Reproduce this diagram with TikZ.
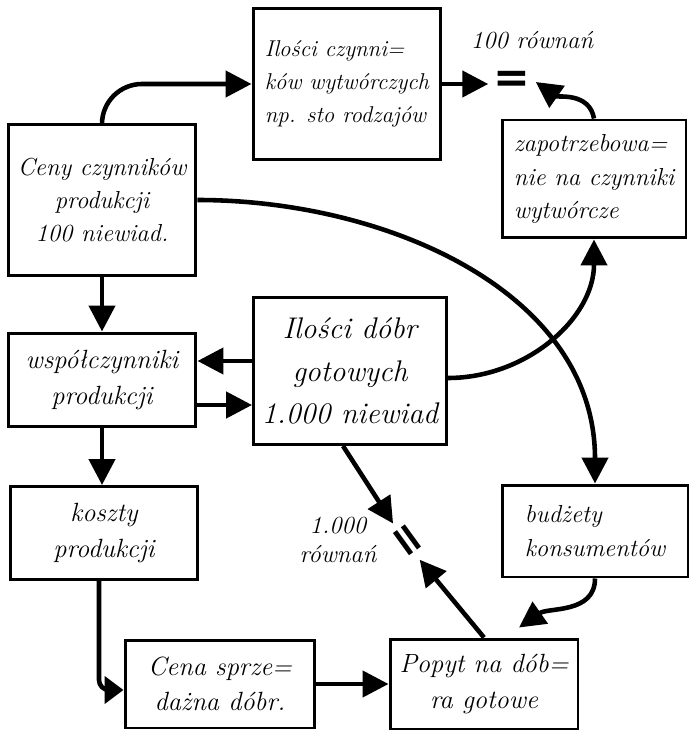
\documentclass[tikz,border=0pt]{standalone}
\usepackage{fontspec}
\newfontfamily\eqfont{DejaVu Sans}
\usetikzlibrary{arrows.meta}

\tikzset{
  box/.style={draw, line width=1.7pt, minimum width=3.76cm, align=center, inner sep=2pt,
    font=\fontsize{14}{19}\selectfont\itshape},
  bigbox/.style={box, font=\fontsize{17}{24}\selectfont\itshape},
  flow/.style={line width=2.6pt, -{Triangle[length=0.52cm,width=0.52cm]}},
  shortflow/.style={flow, -{Triangle[length=0.38cm,width=0.54cm]}},
  eqsign/.style={font=\eqfont\bfseries\fontsize{25}{25}\selectfont, inner sep=0.1cm},
  note/.style={font=\fontsize{14}{17}\selectfont\itshape}
}

\begin{document}
\begin{tikzpicture}[x=0.02cm,y=0.02cm]
  \fill[white] (0,0) rectangle (689,-732);
  \useasboundingbox (0,0) rectangle (689,-732);

  % factor side (top)
  \node[box, minimum height=3.02cm, align=left, font=\fontsize{13}{19}\selectfont\itshape] (qfac) at (347,-84) {Ilości czynni=\\ków wytwórczych\\np. sto rodzajów};
  \node[box, minimum height=3.02cm] (pfac) at (102,-200) {Ceny czynników\\produkcji\\100 niewiad.};
  \node[box, minimum width=3.68cm, minimum height=2.36cm, align=left] (dfac) at (594,-179) {zapotrzebowa=\\nie na czynniki\\wytwórcze};
  \node[eqsign] (eq100) at (512,-82) {=};
  \node[note] (n100) at (532,-40) {100 równań};

  % goods side (middle)
  \node[box, minimum height=1.88cm, font=\fontsize{15}{20}\selectfont\itshape] (coef) at (102,-380) {współczynniki\\produkcji};
  \node[bigbox, minimum width=3.86cm, minimum height=2.94cm] (qgood) at (350,-371) {Ilości dóbr\\gotowych\\1.000 niewiad};
  \node[box, minimum height=1.86cm, font=\fontsize{15}{20}\selectfont\itshape] (cost) at (104,-533) {koszty\\produkcji};
  \node[box, minimum width=3.72cm, minimum height=1.84cm, align=left] (budg) at (595,-531) {budżety\\konsumentów};
  \node[eqsign, rotate=-54] (eq1000) at (405,-542) {=};
  \node[note, align=center] (n1000) at (338,-540) {1.000\\równań};

  % bottom row
  \node[box, minimum width=3.8cm, minimum height=1.76cm, font=\fontsize{15}{20}\selectfont\itshape] (price) at (220,-684) {Cena sprze=\\dażna dóbr.};
  \node[box, minimum height=1.8cm, font=\fontsize{15}{20}\selectfont\itshape] (demand) at (484,-684) {Popyt na dób=\\ra gotowe};

  % connectors
  \draw[flow, rounded corners=0.8cm] (pfac.north) |- (qfac.west);
  \draw[flow] (qfac.east) -- (qfac.east -| eq100.west);
  \draw[flow] (dfac.north) to[out=100,in=-35] (eq100.east);
  \draw[flow] ([yshift=-0.14cm]qgood.east) to[out=0,in=-90] (dfac.south);
  \draw[flow] (pfac.east) to[out=0,in=90] (budg.north);
  \draw[flow] (pfac.south) -- (coef.north);
  \draw[flow] (qgood.west |- 0,-361) -- (coef.east |- 0,-361);
  \draw[flow] (coef.east |- 0,-405) -- (qgood.west |- 0,-405);
  \draw[flow] (coef.south) -- (coef.south |- cost.north);
  \draw[shortflow, rounded corners=0.2cm] ([xshift=-0.1cm]cost.south) |- ([yshift=-0.12cm]price.west);
  \draw[flow] (price.east) -- (demand.west);
  \draw[flow] (budg.south) to[out=-90,in=35] ([xshift=0.7cm,yshift=0.2cm]demand.north);
  \draw[flow, shorten >=0.44cm] ([xshift=-0.14cm]qgood.south) -- (eq1000.center);
  \draw[flow, shorten >=0.46cm] (demand.north) -- (eq1000.center);
\end{tikzpicture}
\end{document}
